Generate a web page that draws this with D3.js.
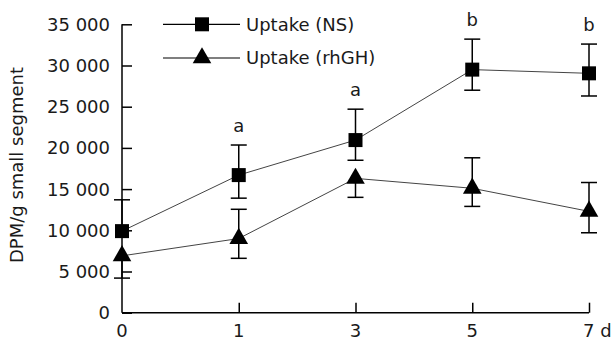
<!DOCTYPE html>
<html>
<head>
<meta charset="utf-8">
<script src="https://cdn.jsdelivr.net/npm/d3@7"></script>
<style>
  html, body { margin: 0; padding: 0; background: #fff; }
  svg { display: block; }
  text { font-family: "DejaVu Sans", Verdana, sans-serif; fill: #1a1a1a; }
</style>
</head>
<body>
<svg id="chart" width="613" height="342"></svg>
<script>
// ---- Data ----
const days = ["0", "1", "3", "5", "7"];
const nsValues   = [9900, 16700, 20950, 29500, 29050];
const nsUpper    = [13700, 20350, 24700, 33200, 32600];
const nsLower    = [null, 13900, 18500, 27000, 26300];
const rhValues   = [6900, 9000, 16300, 15100, 12300];
const rhUpper    = [null, 12550, null, 18800, 15800];
const rhLower    = [4200, 6600, 14000, 12900, 9700];
const sigLetters = ["", "a", "a", "b", "b"];
const yTicks     = [0, 5000, 10000, 15000, 20000, 25000, 30000, 35000];
const seriesNames = ["Uptake (NS)", "Uptake (rhGH)"];
const yLabel = "DPM/g small segment";

// ---- Layout ----
const svg = d3.select("#chart");
const x = d3.scalePoint().domain(days).range([122, 589]);
const y = d3.scaleLinear().domain([0, 35000]).range([312.7, 24.3]);

const fmt = v => v === 0 ? "0" : d3.format(",")(v).replace(/,/g, " ");

// Y axis (ticks inward)
const yAxis = svg.append("g").attr("transform", "translate(122,0)")
  .call(d3.axisRight(y).tickValues(yTicks).tickSize(10).tickFormat(""));
yAxis.select(".domain").attr("d", `M0,${y(35000)}V${y(0)}`).attr("stroke", "#000").attr("stroke-width", 1.5);
yAxis.selectAll(".tick line").attr("stroke", "#000").attr("stroke-width", 1.5);
svg.append("g").selectAll("text").data(yTicks).join("text")
  .attr("x", 110).attr("y", d => y(d)).attr("dy", "0.36em")
  .attr("text-anchor", "end").attr("font-size", 18).text(fmt);

// X axis (ticks inward/upward)
const xAxis = svg.append("g").attr("transform", `translate(0,${y(0)})`)
  .call(d3.axisTop(x).tickSize(10).tickFormat(""));
xAxis.select(".domain").attr("d", `M${x("0")},0H${x("7")}`).attr("stroke", "#000").attr("stroke-width", 1.5);
xAxis.selectAll(".tick line").attr("stroke", "#000").attr("stroke-width", 1.5)
  .attr("display", d => d === "0" ? "none" : null);
svg.append("g").selectAll("text").data(days).join("text")
  .attr("x", d => d === "7" ? x(d) - 6 : x(d)).attr("y", 337)
  .attr("text-anchor", d => d === "7" ? "start" : "middle")
  .attr("font-size", 18).text(d => d === "7" ? "7 d" : d);

// Y label
svg.append("text").attr("transform", "translate(23,165) rotate(-90)")
  .attr("text-anchor", "middle").attr("font-size", 18).text(yLabel);

const series = [
  { vals: nsValues, up: nsUpper, lo: nsLower, sym: d3.symbolSquare, size: 196 },
  { vals: rhValues, up: rhUpper, lo: rhLower, sym: d3.symbolTriangle, size: 150 }
];

const line = d3.line().x((d, i) => x(days[i])).y(d => y(d));

series.forEach(s => {
  svg.append("path").datum(s.vals).attr("d", line)
    .attr("fill", "none").attr("stroke", "#444").attr("stroke-width", 1);
});

// Error bars
series.forEach(s => {
  const g = svg.append("g").attr("stroke", "#000").attr("stroke-width", 1.5);
  days.forEach((d, i) => {
    const cx = x(d);
    [s.up[i], s.lo[i]].forEach(e => {
      if (e == null) return;
      g.append("line").attr("x1", cx).attr("x2", cx).attr("y1", y(s.vals[i])).attr("y2", y(e));
      g.append("line").attr("x1", cx - 8).attr("x2", cx + 8).attr("y1", y(e)).attr("y2", y(e));
    });
  });
});

// Markers
series.forEach(s => {
  svg.append("g").selectAll("path").data(s.vals).join("path")
    .attr("transform", (d, i) => `translate(${x(days[i])},${y(d)})`)
    .attr("d", d3.symbol().type(s.sym).size(s.size)).attr("fill", "#000");
});

// Significance letters
svg.append("g").selectAll("text").data(sigLetters).join("text")
  .attr("x", (d, i) => x(days[i])).attr("y", (d, i) => y(nsUpper[i]) - 13)
  .attr("text-anchor", "middle").attr("font-size", 18).text(d => d);

// Legend
const legendY = [24.3, 58];
series.forEach((s, i) => {
  const g = svg.append("g");
  g.append("line").attr("x1", 163).attr("x2", 240).attr("y1", legendY[i]).attr("y2", legendY[i])
    .attr("stroke", "#000").attr("stroke-width", 1.2);
  g.append("path").attr("transform", `translate(202,${legendY[i]})`)
    .attr("d", d3.symbol().type(s.sym).size(s.size)).attr("fill", "#000");
  g.append("text").attr("x", 246).attr("y", legendY[i]).attr("dy", "0.36em")
    .attr("font-size", 18).text(seriesNames[i]);
});
</script>
</body>
</html>
